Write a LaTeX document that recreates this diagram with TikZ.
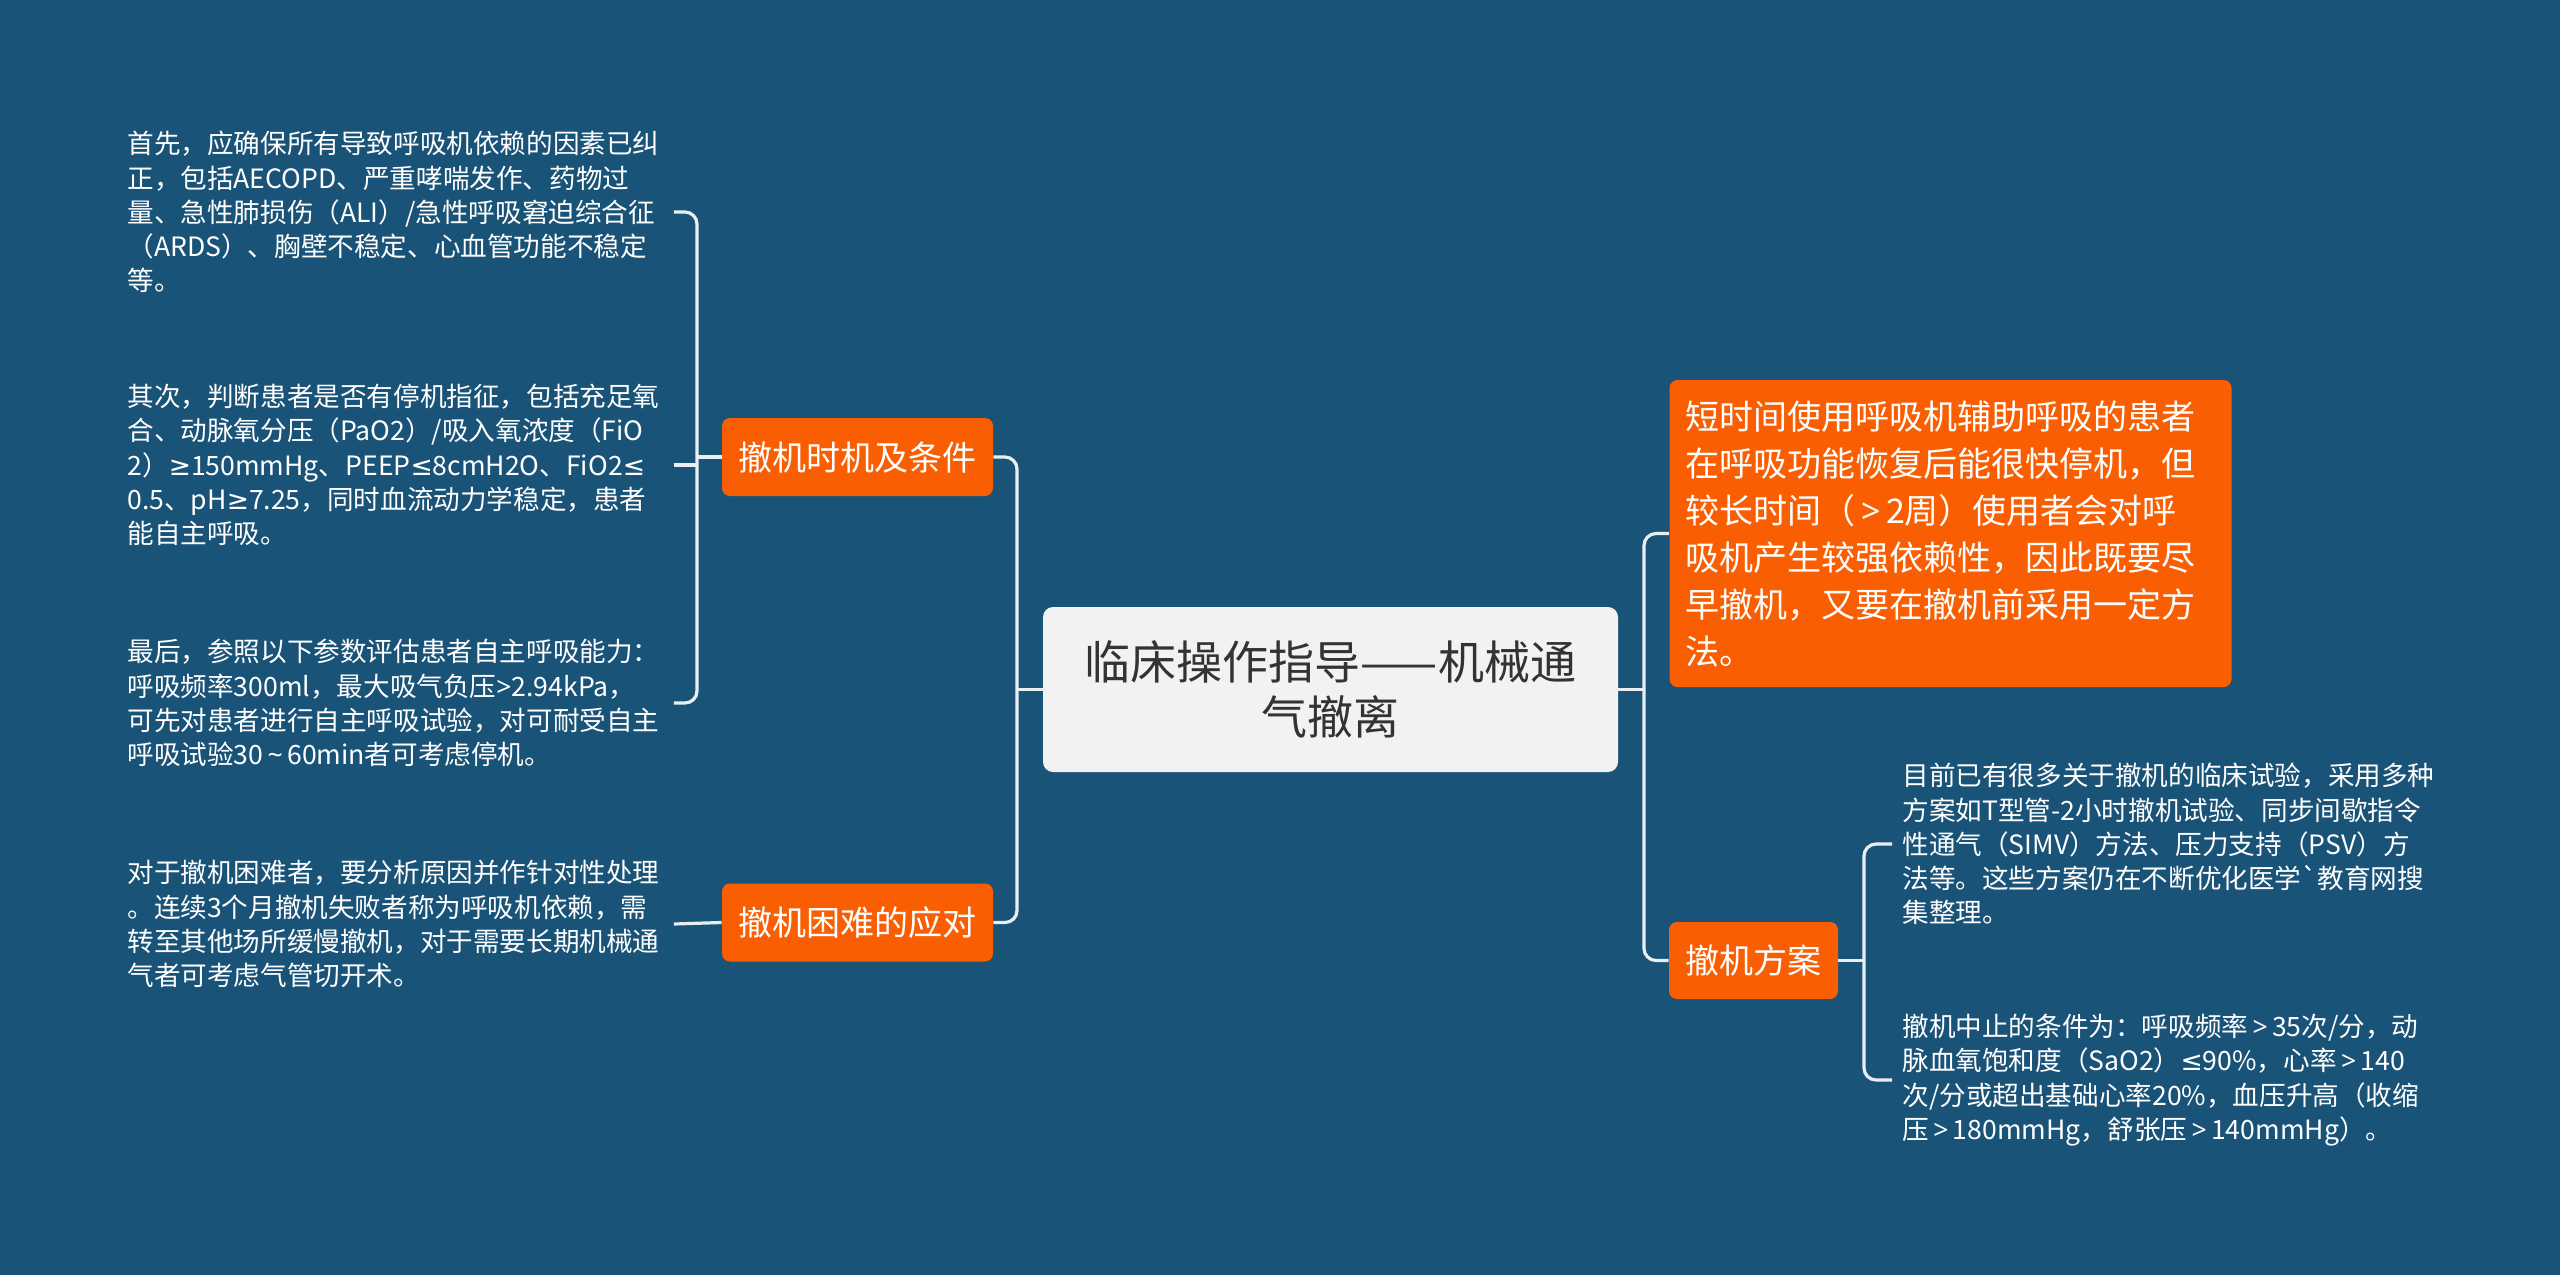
\documentclass[tikz,border=0pt]{standalone}
\usepackage{fontspec}
\setmainfont{Noto Sans CJK SC}
\newfontfamily\symfont{Noto Sans}
\newfontfamily\mathsymfont{DejaVu Sans}
\newfontfamily\rawcjk{Noto Sans CJK SC}
\newcommand\mLe{{\mathsymfont ≤}}
\newcommand\mGe{{\mathsymfont ≥}}
\newcommand\fwGt{\makebox[0.9em][c]{\symfont >}}
\newcommand\fwTilde{\makebox[0.9em][c]{\symfont \textasciitilde}}
\definecolor{bgblue}{HTML}{1A5378}
\definecolor{orangef}{HTML}{F95F02}
\definecolor{linec}{HTML}{E8EEF2}
\definecolor{centerf}{HTML}{F2F2F2}
\definecolor{titlec}{HTML}{333333}
\begin{document}
\begin{tikzpicture}[x=0.5pt,y=-0.5pt,
  conn/.style={draw=linec, line width=1.6pt, rounded corners=6pt},
  topic/.style={fill=orangef, rounded corners=4pt, text=white,
    font=\fontsize{17pt}{23.5pt}\selectfont, inner sep=0pt,
    minimum width=135.5pt, minimum height=39pt},
  leaf/.style={text=white, font=\fontsize{13.3pt}{17.1pt}\selectfont,
    align=left, text width=268pt, inner sep=5pt, anchor=west}]
\fill[bgblue] (0,0) rectangle (2560,1275);
\useasboundingbox (0,0) rectangle (2560,1275);

% central topic
\node[fill=centerf, rounded corners=5pt, minimum width=287.5pt, minimum height=82.5pt,
  text=titlec, font=\fontsize{23pt}{27.7pt}\selectfont, align=center, inner sep=0pt]
  (c) at (1330.5,689.5) {临床操作指导——机械通\\气撤离};

% main branches
\node[topic] (l1) at (857.5,457) {撤机时机及条件};
\node[topic] (l2) at (857.5,922.5) {撤机困难的应对};
\node[fill=orangef, rounded corners=4pt, text=white,
  font=\fontsize{17pt}{23.5pt}\selectfont, align=left, text width=265pt,
  inner xsep=8pt, inner ysep=0pt, minimum height=153.5pt]
  (r1) at (1950.5,533.5) {短时间使用呼吸机辅助呼吸的患者\\在呼吸功能恢复后能很快停机，但\\较长时间（\fwGt 2周）使用者会对呼\\吸机产生较强依赖性，因此既要尽\\早撤机，又要在撤机前采用一定方\\法。};
\node[topic, minimum width=84.5pt, minimum height=38.5pt] (r2) at (1753.5,960.5) {撤机方案};

% left leaves
\node[leaf] (a1) at (117,212) {首先，应确保所有导致呼吸机依赖的因素已纠\\正，包括AECOPD、严重哮喘发作、药物过\\量、急性肺损伤（ALI）/急性呼吸窘迫综合征\\（ARDS）、胸壁不稳定、心血管功能不稳定\\等。};
\node[leaf] (a2) at (117,465) {其次，判断患者是否有停机指征，包括充足氧\\合、动脉氧分压（PaO2）/吸入氧浓度（FiO\\2）\mGe 150mmHg、PEEP\mLe 8cmH2O、FiO2\mLe\\0.5、pH\mGe 7.25，同时血流动力学稳定，患者\\能自主呼吸。};
\node[leaf] (a3) at (117,703) {最后，参照以下参数评估患者自主呼吸能力：\\呼吸频率300ml，最大吸气负压{\symfont >}2.94kPa，\\可先对患者进行自主呼吸试验，对可耐受自主\\呼吸试验30\fwTilde 60min者可考虑停机。};
\node[leaf] (a4) at (117,924) {对于撤机困难者，要分析原因并作针对性处理\\。连续3个月撤机失败者称为呼吸机依赖，需\\转至其他场所缓慢撤机，对于需要长期机械通\\气者可考虑气管切开术。};

% right leaves
\node[leaf] (b1) at (1892,844) {目前已有很多关于撤机的临床试验，采用多种\\方案如T型管-2小时撤机试验、同步间歇指令\\性通气（SIMV）方法、压力支持（PSV）方\\法等。这些方案仍在不断优化医学{\rawcjk\char96}教育网搜\\集整理。};
\node[leaf] (b2) at (1892,1080) {撤机中止的条件为：呼吸频率\fwGt 35次/分，动\\脉血氧饱和度（SaO2）\mLe 90\%，心率\fwGt 140\\次/分或超出基础心率20\%，血压升高（收缩\\压\fwGt 180mmHg，舒张压\fwGt 140mmHg）。};

% connectors: center
\coordinate (jl) at (1017,689.5);
\coordinate (jr) at (1644,689.5);
\draw[conn] (c.west) -- (jl);
\draw[conn] (l1.east) -| (jl) |- (l2.east);
\draw[conn] (c.east) -- (jr);
\draw[conn] (r1.west) -| (jr) |- (r2.west);

% connectors: left leaves
\coordinate (ka) at (697,457);
\draw[conn] (l1.west) -- (ka);
\draw[conn] (a1.east) -| (ka) |- (a3.east);
\draw[conn] (a2.east) -- (a2.east -| ka);
\draw[conn] (l2.west) -- (a4.east);

% connectors: right leaves
\coordinate (kb) at (1864,960.5);
\draw[conn] (r2.east) -- (kb);
\draw[conn] (b1.west) -| (kb) |- (b2.west);
\end{tikzpicture}
\end{document}
